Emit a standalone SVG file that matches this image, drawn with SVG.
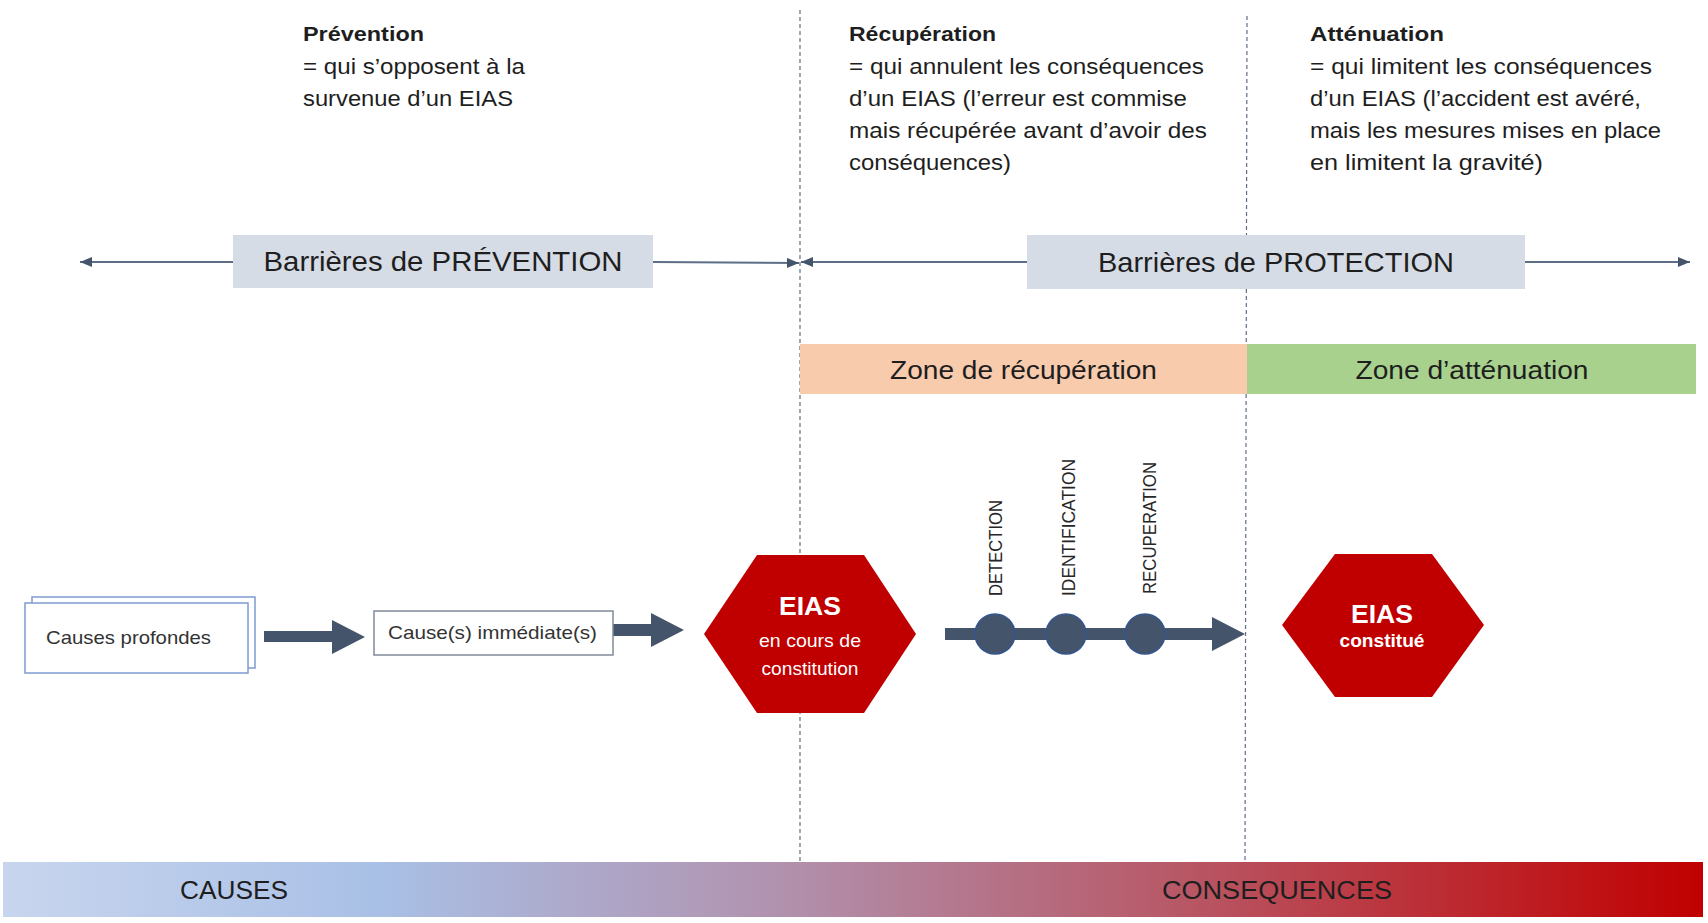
<svg xmlns="http://www.w3.org/2000/svg" width="1708" height="923" viewBox="0 0 1708 923">
<style>
  .t { font-family: "Liberation Sans", Arial, sans-serif; fill: #1e1e1e; }
  .b { font-weight: bold; }
  .body { font-size: 22px; }
  .head { font-size: 21px; font-weight: bold; }
  .big { font-size: 28px; }
  .zone { font-size: 26px; }
  .box { font-size: 19px; fill: #333333; }
  .vert { font-size: 18px; fill: #262626; }
  .hexT { font-family: "Liberation Sans", Arial, sans-serif; fill: #ffffff; text-anchor: middle; }
  .divider { stroke: #5f6e86; stroke-width: 1.2; stroke-dasharray: 4 3; fill: none; }
  .thin { stroke: #5d6e86; stroke-width: 2; fill: none; marker-end: url(#ah); }
  .block { fill: #44546a; }
  .hex { fill: #c00000; }
  .dot { fill: #44546a; stroke: #34558f; stroke-width: 1.5; }
</style>
<defs>
  <marker id="ah" viewBox="0 0 12 10" refX="12" refY="5" markerWidth="12" markerHeight="10" markerUnits="userSpaceOnUse" orient="auto">
    <path d="M0,0 L12,5 L0,10 Z" fill="#44546a"/>
  </marker>
  <linearGradient id="grad" x1="0" y1="0" x2="1" y2="0">
    <stop offset="0" stop-color="#c8d5ee"/>
    <stop offset="0.22" stop-color="#a9c0e6"/>
    <stop offset="0.45" stop-color="#b193b0"/>
    <stop offset="0.7" stop-color="#b85664"/>
    <stop offset="1" stop-color="#c00000"/>
  </linearGradient>
</defs>
<rect width="1708" height="923" fill="#ffffff"/>

<g id="dividers">
  <line class="divider" x1="800" y1="10" x2="800" y2="862"/>
  <line class="divider" x1="1247" y1="16" x2="1245" y2="862"/>
</g>

<g id="text-prevention">
  <text class="t head" x="303" y="41" textLength="121" lengthAdjust="spacingAndGlyphs">Prévention</text>
  <text class="t body" x="303" y="74" textLength="222" lengthAdjust="spacingAndGlyphs">= qui s’opposent à la</text>
  <text class="t body" x="303" y="106" textLength="210" lengthAdjust="spacingAndGlyphs">survenue d’un EIAS</text>
</g>
<g id="text-recuperation">
  <text class="t head" x="849" y="41" textLength="147" lengthAdjust="spacingAndGlyphs">Récupération</text>
  <text class="t body" x="849" y="74" textLength="355" lengthAdjust="spacingAndGlyphs">= qui annulent les conséquences</text>
  <text class="t body" x="849" y="106" textLength="338" lengthAdjust="spacingAndGlyphs">d’un EIAS (l’erreur est commise</text>
  <text class="t body" x="849" y="138" textLength="358" lengthAdjust="spacingAndGlyphs">mais récupérée avant d’avoir des</text>
  <text class="t body" x="849" y="170" textLength="162" lengthAdjust="spacingAndGlyphs">conséquences)</text>
</g>
<g id="text-attenuation">
  <text class="t head" x="1310" y="41" textLength="134" lengthAdjust="spacingAndGlyphs">Atténuation</text>
  <text class="t body" x="1310" y="74" textLength="342" lengthAdjust="spacingAndGlyphs">= qui limitent les conséquences</text>
  <text class="t body" x="1310" y="106" textLength="331" lengthAdjust="spacingAndGlyphs">d’un EIAS (l’accident est avéré,</text>
  <text class="t body" x="1310" y="138" textLength="351" lengthAdjust="spacingAndGlyphs">mais les mesures mises en place</text>
  <text class="t body" x="1310" y="170" textLength="233" lengthAdjust="spacingAndGlyphs">en limitent la gravité)</text>
</g>

<g id="connectors">
  <line class="thin" x1="233" y1="262" x2="80" y2="262"/>
  <line class="thin" x1="653" y1="262" x2="799" y2="263"/>
  <line class="thin" x1="1027" y1="262" x2="801" y2="262"/>
  <line class="thin" x1="1525" y1="262" x2="1690" y2="262"/>
  <path class="block" d="M264,631 L332,631 L332,620 L365,637 L332,654 L332,642 L264,642 Z"/>
  <path class="block" d="M613,624 L651,624 L651,613 L684,630 L651,647 L651,636 L613,636 Z"/>
  <path class="block" d="M945,628 L1212,628 L1212,617 L1245,634 L1212,651 L1212,640 L945,640 Z"/>
</g>

<g id="barrier-prevention">
  <rect x="233" y="235" width="420" height="53" fill="#d6dce5"/>
  <text class="t big" x="443" y="271" text-anchor="middle" textLength="359" lengthAdjust="spacingAndGlyphs">Barrières de PRÉVENTION</text>
</g>
<g id="barrier-protection">
  <rect x="1027" y="235" width="498" height="54" fill="#d6dce5"/>
  <text class="t big" x="1276" y="272" text-anchor="middle" textLength="356" lengthAdjust="spacingAndGlyphs">Barrières de PROTECTION</text>
</g>

<g id="zone-recuperation">
  <rect x="800" y="344" width="447" height="50" fill="#f8cbad"/>
  <text class="t zone" x="1023.5" y="379" text-anchor="middle" textLength="267" lengthAdjust="spacingAndGlyphs">Zone de récupération</text>
</g>
<g id="zone-attenuation">
  <rect x="1247" y="344" width="449" height="50" fill="#a9d18e"/>
  <text class="t zone" x="1472" y="379" text-anchor="middle" textLength="233" lengthAdjust="spacingAndGlyphs">Zone d’atténuation</text>
</g>

<g id="causes-profondes">
  <rect x="32" y="597" width="223" height="71" fill="#ffffff" stroke="#7f9bd0" stroke-width="1.5"/>
  <rect x="25" y="603" width="223" height="70" fill="#ffffff" stroke="#7f9bd0" stroke-width="1.5"/>
  <text class="t box" x="46" y="644" textLength="165" lengthAdjust="spacingAndGlyphs">Causes profondes</text>
</g>

<g id="causes-immediates">
  <rect x="374" y="611" width="239" height="44" fill="#ffffff" stroke="#7f8a99" stroke-width="1.5"/>
  <text class="t box" x="388" y="639" textLength="209" lengthAdjust="spacingAndGlyphs">Cause(s) immédiate(s)</text>
</g>

<g id="eias-en-cours">
  <polygon class="hex" points="704,634 757,555 864,555 916,634 864,713 757,713"/>
  <text class="hexT b" x="810" y="615" font-size="26" textLength="62" lengthAdjust="spacingAndGlyphs">EIAS</text>
  <text class="hexT" x="810" y="647" font-size="19" textLength="102" lengthAdjust="spacingAndGlyphs">en cours de</text>
  <text class="hexT" x="810" y="675" font-size="19" textLength="97" lengthAdjust="spacingAndGlyphs">constitution</text>
</g>

<g id="timeline-steps">
  <circle class="dot" cx="995" cy="634" r="20"/>
  <circle class="dot" cx="1066" cy="634" r="20"/>
  <circle class="dot" cx="1145" cy="634" r="20"/>
  <text class="t vert" transform="translate(1002,596) rotate(-90)" textLength="96" lengthAdjust="spacingAndGlyphs">DETECTION</text>
  <text class="t vert" transform="translate(1075,596) rotate(-90)" textLength="137" lengthAdjust="spacingAndGlyphs">IDENTIFICATION</text>
  <text class="t vert" transform="translate(1156,594) rotate(-90)" textLength="132" lengthAdjust="spacingAndGlyphs">RECUPERATION</text>
</g>

<g id="eias-constitue">
  <polygon class="hex" points="1282,625 1335,554 1432,554 1484,625 1432,697 1335,697"/>
  <text class="hexT b" x="1382" y="623" font-size="26" textLength="62" lengthAdjust="spacingAndGlyphs">EIAS</text>
  <text class="hexT b" x="1382" y="647" font-size="19" textLength="85" lengthAdjust="spacingAndGlyphs">constitué</text>
</g>

<g id="causes-consequences-bar">
  <rect x="3" y="862" width="1700" height="55" fill="url(#grad)"/>
  <text class="t" x="234" y="899" font-size="26" text-anchor="middle" textLength="108" lengthAdjust="spacingAndGlyphs">CAUSES</text>
  <text class="t" x="1277" y="899" font-size="26" text-anchor="middle" textLength="230" lengthAdjust="spacingAndGlyphs">CONSEQUENCES</text>
</g>
</svg>
